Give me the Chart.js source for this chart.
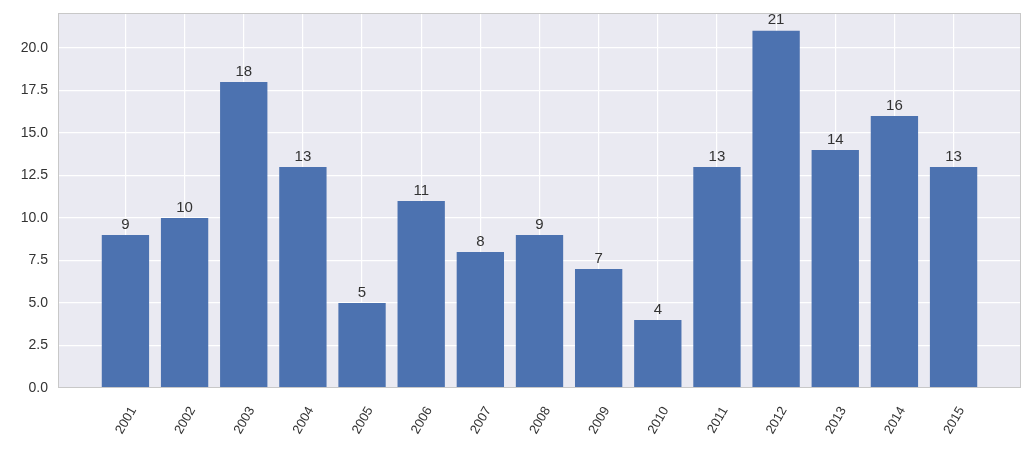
<!DOCTYPE html>
<html>
<head>
<meta charset="utf-8">
<script src="https://cdn.jsdelivr.net/npm/chart.js@4/dist/chart.umd.min.js"></script>
<style>
  html, body { margin: 0; padding: 0; background: #fff; }
  #wrap { width: 1032px; height: 450px; }
</style>
</head>
<body>
<div id="wrap"><canvas id="barChart"></canvas></div>
<script>
// data
const years = ["2001", "2002", "2003", "2004", "2005", "2006", "2007", "2008",
               "2009", "2010", "2011", "2012", "2013", "2014", "2015"];
const counts = [9, 10, 18, 13, 5, 11, 8, 9, 7, 4, 13, 21, 14, 16, 13];
const yTicks = [0, 2.5, 5, 7.5, 10, 12.5, 15, 17.5, 20];

const textColor = "#333333";
const fontFamily = "'Liberation Sans', Arial, sans-serif";

// background and frame for the plot area
const plotFrame = {
  id: "plotFrame",
  beforeDraw(chart) {
    const { ctx, chartArea: a } = chart;
    ctx.save();
    ctx.fillStyle = "#EAEAF2";
    ctx.fillRect(a.left, a.top, a.right - a.left, a.bottom - a.top);
    ctx.restore();
  },
  afterDraw(chart) {
    const { ctx, chartArea: a } = chart;
    ctx.save();
    ctx.strokeStyle = "#c8c8c8";
    ctx.lineWidth = 1;
    ctx.strokeRect(a.left + 0.5, a.top + 0.5, a.right - a.left - 1, a.bottom - a.top - 1);
    ctx.restore();
  }
};

// numbers on top of each bar
const barValues = {
  id: "barValues",
  afterDatasetsDraw(chart) {
    const { ctx } = chart;
    const meta = chart.getDatasetMeta(0);
    ctx.save();
    ctx.fillStyle = textColor;
    ctx.font = "15px " + fontFamily;
    ctx.textAlign = "center";
    ctx.textBaseline = "bottom";
    meta.data.forEach((bar, i) => {
      ctx.fillText(String(counts[i]), bar.x, bar.y - 3);
    });
    ctx.restore();
  }
};

new Chart(document.getElementById("barChart"), {
  type: "bar",
  data: {
    datasets: [{
      data: counts.map((v, i) => ({ x: i, y: v })),
      backgroundColor: "#4C72B0",
      barPercentage: 0.8,
      categoryPercentage: 1.0
    }]
  },
  options: {
    responsive: true,
    maintainAspectRatio: false,
    animation: false,
    layout: { padding: { top: 13, right: 11, left: 0, bottom: 0 } },
    plugins: { legend: { display: false }, tooltip: { enabled: false } },
    scales: {
      x: {
        type: "linear",
        offset: false,
        min: -1.14,
        max: 15.14,
        afterBuildTicks: (axis) => { axis.ticks = years.map((_, i) => ({ value: i })); },
        afterFit: (axis) => { axis.height = 62; },
        grid: { color: "#ffffff", lineWidth: 1.2, drawTicks: false, offset: false },
        border: { display: false },
        ticks: {
          callback: (v) => years[v],
          minRotation: 60,
          maxRotation: 60,
          autoSkip: false,
          padding: 16,
          labelOffset: 8,
          color: textColor,
          font: { size: 13, family: fontFamily }
        }
      },
      y: {
        min: 0,
        max: 22.05,
        afterBuildTicks: (axis) => { axis.ticks = yTicks.map((v) => ({ value: v })); },
        afterFit: (axis) => {
          axis.width = 58;
          axis.paddingTop = 0;
          axis.paddingBottom = 0;
        },
        grid: { color: "#ffffff", lineWidth: 1.2, drawTicks: false },
        border: { display: false },
        ticks: {
          callback: (v) => v.toFixed(1),
          padding: 10,
          color: textColor,
          font: { size: 14, family: fontFamily }
        }
      }
    }
  },
  plugins: [plotFrame, barValues]
});
</script>
</body>
</html>
